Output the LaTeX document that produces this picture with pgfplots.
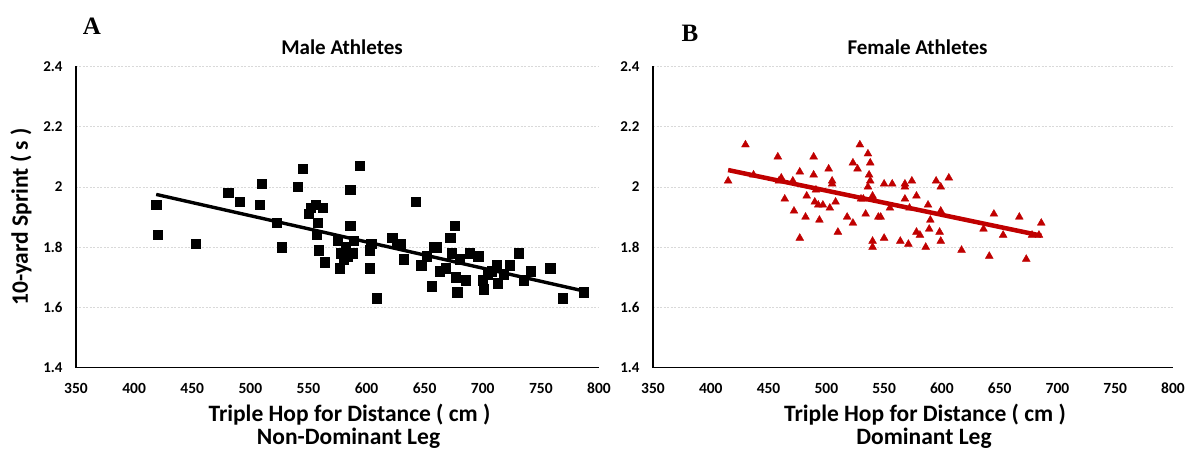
\documentclass[border=0pt]{standalone}
\usepackage{fontspec}
\setmainfont{Carlito}
\newfontfamily\timesf{Liberation Serif}
\usepackage{pgfplots}
\pgfplotsset{compat=1.18}
\definecolor{femred}{HTML}{C00000}
\definecolor{gridgray}{HTML}{D9D9D9}

\pgfplotsset{
  sprint/.style={
    scale only axis, height=301pt,
    xmin=350, xmax=800, ymin=1.4, ymax=2.4,
    xtick={350,400,450,500,550,600,650,700,750,800},
    ytick={1.4,1.6,1.8,2,2.2,2.4},
    axis x line*=bottom, axis y line*=left,
    axis line style={black, line width=1.6pt, -},
    major tick length=0pt,
    ymajorgrids, grid style={gridgray, dash pattern=on 2pt off 1.5pt, line width=0.8pt},
    /pgf/number format/assume math mode=true,
    xticklabel style={font=\bfseries\fontsize{15.5}{16}\selectfont, anchor=base, yshift=-26pt},
    yticklabel style={font=\bfseries\fontsize{15}{16}\selectfont, anchor=east, xshift=-10pt},
    clip=false,
  },
}
\tikzset{
  ttl/.style={font=\bfseries\fontsize{21}{22}\selectfont, anchor=base},
  xl/.style={font=\bfseries\fontsize{23.5}{24}\selectfont, anchor=base},
  panel/.style={font=\timesf\bfseries\fontsize{25}{25}\selectfont, anchor=base},
}

\begin{document}
\begin{tikzpicture}
\useasboundingbox (-76pt,-82.5pt) rectangle (1117pt,367.5pt);

% A: male athletes, non-dominant leg
\begin{axis}[sprint, width=523pt, at={(0pt,0pt)}, anchor=south west]
\addplot[only marks, mark=square*, mark size=4.6pt, black] coordinates {
(419,1.94) (420,1.84) (453,1.81) (481,1.98) (491,1.95) (508,1.94) (510,2.01)
(523,1.88) (527,1.80) (541,2.00) (545,2.06) (550,1.91) (552,1.93) (556,1.94)
(558,1.88) (557,1.84) (559,1.79) (562,1.93) (564,1.75) (577,1.73) (575,1.82)
(578,1.78) (580,1.76) (582,1.80) (584,1.77) (586,1.99) (586,1.87) (588,1.78)
(589,1.82) (594,2.07) (603,1.79) (603,1.73) (604,1.81) (609,1.63) (622,1.83)
(626,1.81) (629,1.81) (632,1.76) (642,1.95) (647,1.74) (652,1.77) (656,1.67)
(658,1.80) (660,1.80) (663,1.72) (668,1.73) (672,1.83) (673,1.78) (676,1.87)
(677,1.70) (678,1.65) (680,1.76) (685,1.69) (689,1.78) (696,1.77) (700,1.69)
(701,1.66) (704,1.71) (708,1.72) (712,1.74) (713,1.68) (718,1.71) (723,1.74)
(731,1.78) (735,1.69) (741,1.72) (758,1.73) (769,1.63) (787,1.65)
};
\addplot[black, line width=3.4pt] coordinates {(419,1.975) (786,1.655)};
\node[ttl] at ([xshift=4.5pt,yshift=12pt]axis description cs:0.5,1) {Male Athletes};
\node[panel] at ([xshift=16pt,yshift=32pt]axis description cs:0,1) {A};
\node[xl] at ([xshift=12pt,yshift=-54pt]axis description cs:0.5,0) {Triple Hop for Distance ( cm )};
\node[xl] at ([xshift=11pt,yshift=-76.5pt]axis description cs:0.5,0) {Non-Dominant Leg};
\node[xl, rotate=90, anchor=center] at ([xshift=-55pt]axis description cs:0,0.5) {10-yard Sprint ( s )};
\end{axis}

% B: female athletes, dominant leg
\begin{axis}[sprint, width=520pt, at={(577pt,0pt)}, anchor=south west]
\addplot[only marks, mark=triangle*, mark size=4.5pt, femred] coordinates {
(415,2.02) (430,2.14) (437,2.04) (458,2.10) (459,2.02) (461,2.03) (464,1.96)
(471,2.02) (472,1.92) (477,2.05) (477,1.83) (482,1.90) (483,1.97) (489,2.10)
(489,2.04) (491,1.99) (490,1.95) (493,1.94) (494,1.89) (497,1.94) (502,2.06)
(503,1.93) (505,2.01) (505,2.02) (508,1.95) (510,1.85) (518,1.90) (523,2.08)
(523,1.88) (527,2.06) (529,2.14) (530,1.96) (532,1.96) (534,1.91) (536,2.11)
(538,2.08) (537,2.04) (538,2.02) (536,2.00) (540,1.97) (541,1.96) (540,1.82)
(540,1.80) (545,1.90) (547,1.90) (550,1.83) (550,2.01) (555,1.93) (557,2.01)
(564,1.82) (568,2.01) (568,2.00) (568,1.96) (571,1.81) (572,1.93) (574,2.02)
(578,1.97) (578,1.85) (581,1.84) (586,1.80) (588,1.94) (590,1.89) (589,1.86)
(595,2.02) (599,2.00) (599,1.92) (598,1.85) (599,1.82) (606,2.03) (617,1.79)
(636,1.86) (641,1.77) (645,1.91) (653,1.84) (667,1.90) (673,1.76) (678,1.84)
(684,1.84) (686,1.88)
};
\addplot[femred, line width=4.5pt] coordinates {(415,2.056) (686,1.838)};
\node[ttl] at ([xshift=4.5pt,yshift=12pt]axis description cs:0.5,1) {Female Athletes};
\node[panel] at ([xshift=37pt,yshift=25pt]axis description cs:0,1) {B};
\node[xl] at ([xshift=12pt,yshift=-54pt]axis description cs:0.5,0) {Triple Hop for Distance ( cm )};
\node[xl] at ([xshift=11pt,yshift=-76.5pt]axis description cs:0.5,0) {Dominant Leg};
\end{axis}
\end{tikzpicture}
\end{document}
